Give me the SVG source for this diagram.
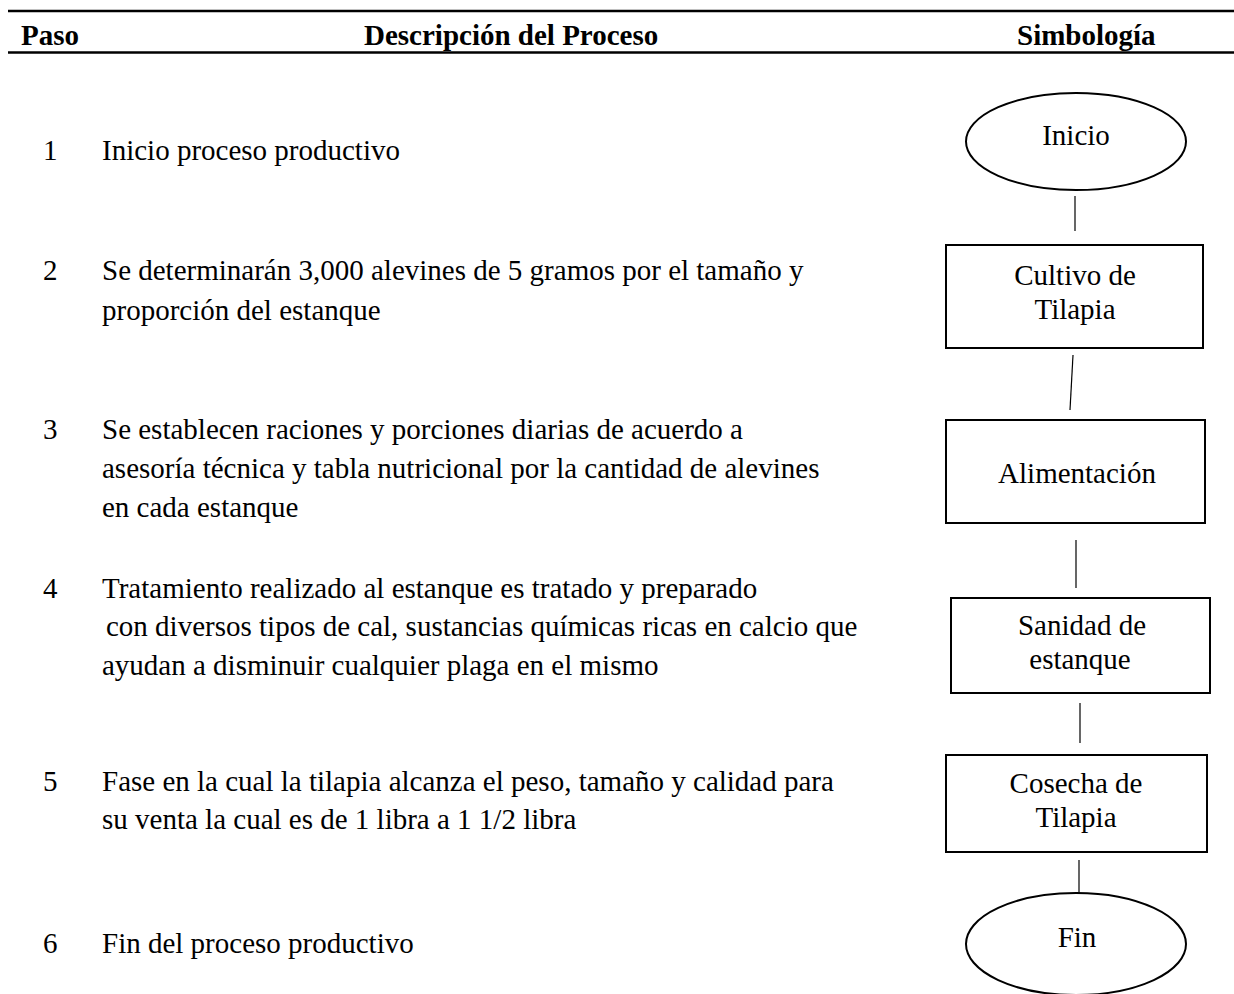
<svg xmlns="http://www.w3.org/2000/svg" width="1234" height="994" viewBox="0 0 1234 994">
<style>
text{font-family:"Liberation Serif","Times New Roman",serif;font-size:29px;fill:#000}
.h{font-weight:bold}
.c{text-anchor:middle}
.shape{fill:#fff;stroke:#000;stroke-width:2}
.rule{stroke:#000;stroke-width:2.5}
.conn line{stroke:#000;stroke-width:1.2}
</style>
<rect width="1234" height="994" fill="#fff"/>
<g id="header">
<line class="rule" x1="8" y1="11" x2="1234" y2="11"/>
<line class="rule" x1="8" y1="52.5" x2="1234" y2="52.5"/>
<text class="h" x="21" y="45">Paso</text>
<text class="h" x="364" y="45">Descripción del Proceso</text>
<text class="h" x="1017" y="45">Simbología</text>
</g>
<g id="steps">
<text x="43" y="160">1</text>
<text x="102" y="160">Inicio proceso productivo</text>
<text x="43" y="280">2</text>
<text x="102" y="280">Se determinarán 3,000 alevines de 5 gramos por el tamaño y</text>
<text x="102" y="320">proporción del estanque</text>
<text x="43" y="439">3</text>
<text x="102" y="439">Se establecen raciones y porciones diarias de acuerdo a</text>
<text x="102" y="478">asesoría técnica y tabla nutricional por la cantidad de alevines</text>
<text x="102" y="517">en cada estanque</text>
<text x="43" y="598">4</text>
<text x="102" y="598">Tratamiento realizado al estanque es tratado y preparado</text>
<text x="106" y="636">con diversos tipos de cal, sustancias químicas ricas en calcio que</text>
<text x="102" y="675">ayudan a disminuir cualquier plaga en el mismo</text>
<text x="43" y="791">5</text>
<text x="102" y="791">Fase en la cual la tilapia alcanza el peso, tamaño y calidad para</text>
<text x="102" y="829">su venta la cual es de 1 libra a 1 1/2 libra</text>
<text x="43" y="953">6</text>
<text x="102" y="953">Fin del proceso productivo</text>
</g>
<g id="connectors" class="conn">
<line x1="1075" y1="196" x2="1075" y2="231"/>
<line x1="1073" y1="355" x2="1070" y2="410"/>
<line x1="1076" y1="540" x2="1076" y2="588"/>
<line x1="1080" y1="703" x2="1080" y2="743"/>
<line x1="1079" y1="860" x2="1079" y2="893"/>
</g>
<g id="node-inicio">
<ellipse class="shape" cx="1076" cy="141.5" rx="110" ry="48.5"/>
<text class="c" x="1076" y="145">Inicio</text>
</g>
<g id="node-cultivo">
<rect class="shape" x="946" y="245" width="257" height="103"/>
<text class="c" x="1075" y="285">Cultivo de</text>
<text class="c" x="1075" y="319">Tilapia</text>
</g>
<g id="node-alimentacion">
<rect class="shape" x="946" y="420" width="259" height="103"/>
<text class="c" x="1077" y="483">Alimentación</text>
</g>
<g id="node-sanidad">
<rect class="shape" x="951" y="598" width="259" height="95"/>
<text class="c" x="1082" y="635">Sanidad de</text>
<text class="c" x="1080" y="669">estanque</text>
</g>
<g id="node-cosecha">
<rect class="shape" x="946" y="755" width="261" height="97"/>
<text class="c" x="1076" y="793">Cosecha de</text>
<text class="c" x="1076" y="827">Tilapia</text>
</g>
<g id="node-fin">
<ellipse class="shape" cx="1076" cy="944" rx="110" ry="51"/>
<text class="c" x="1077" y="947">Fin</text>
</g>
</svg>
